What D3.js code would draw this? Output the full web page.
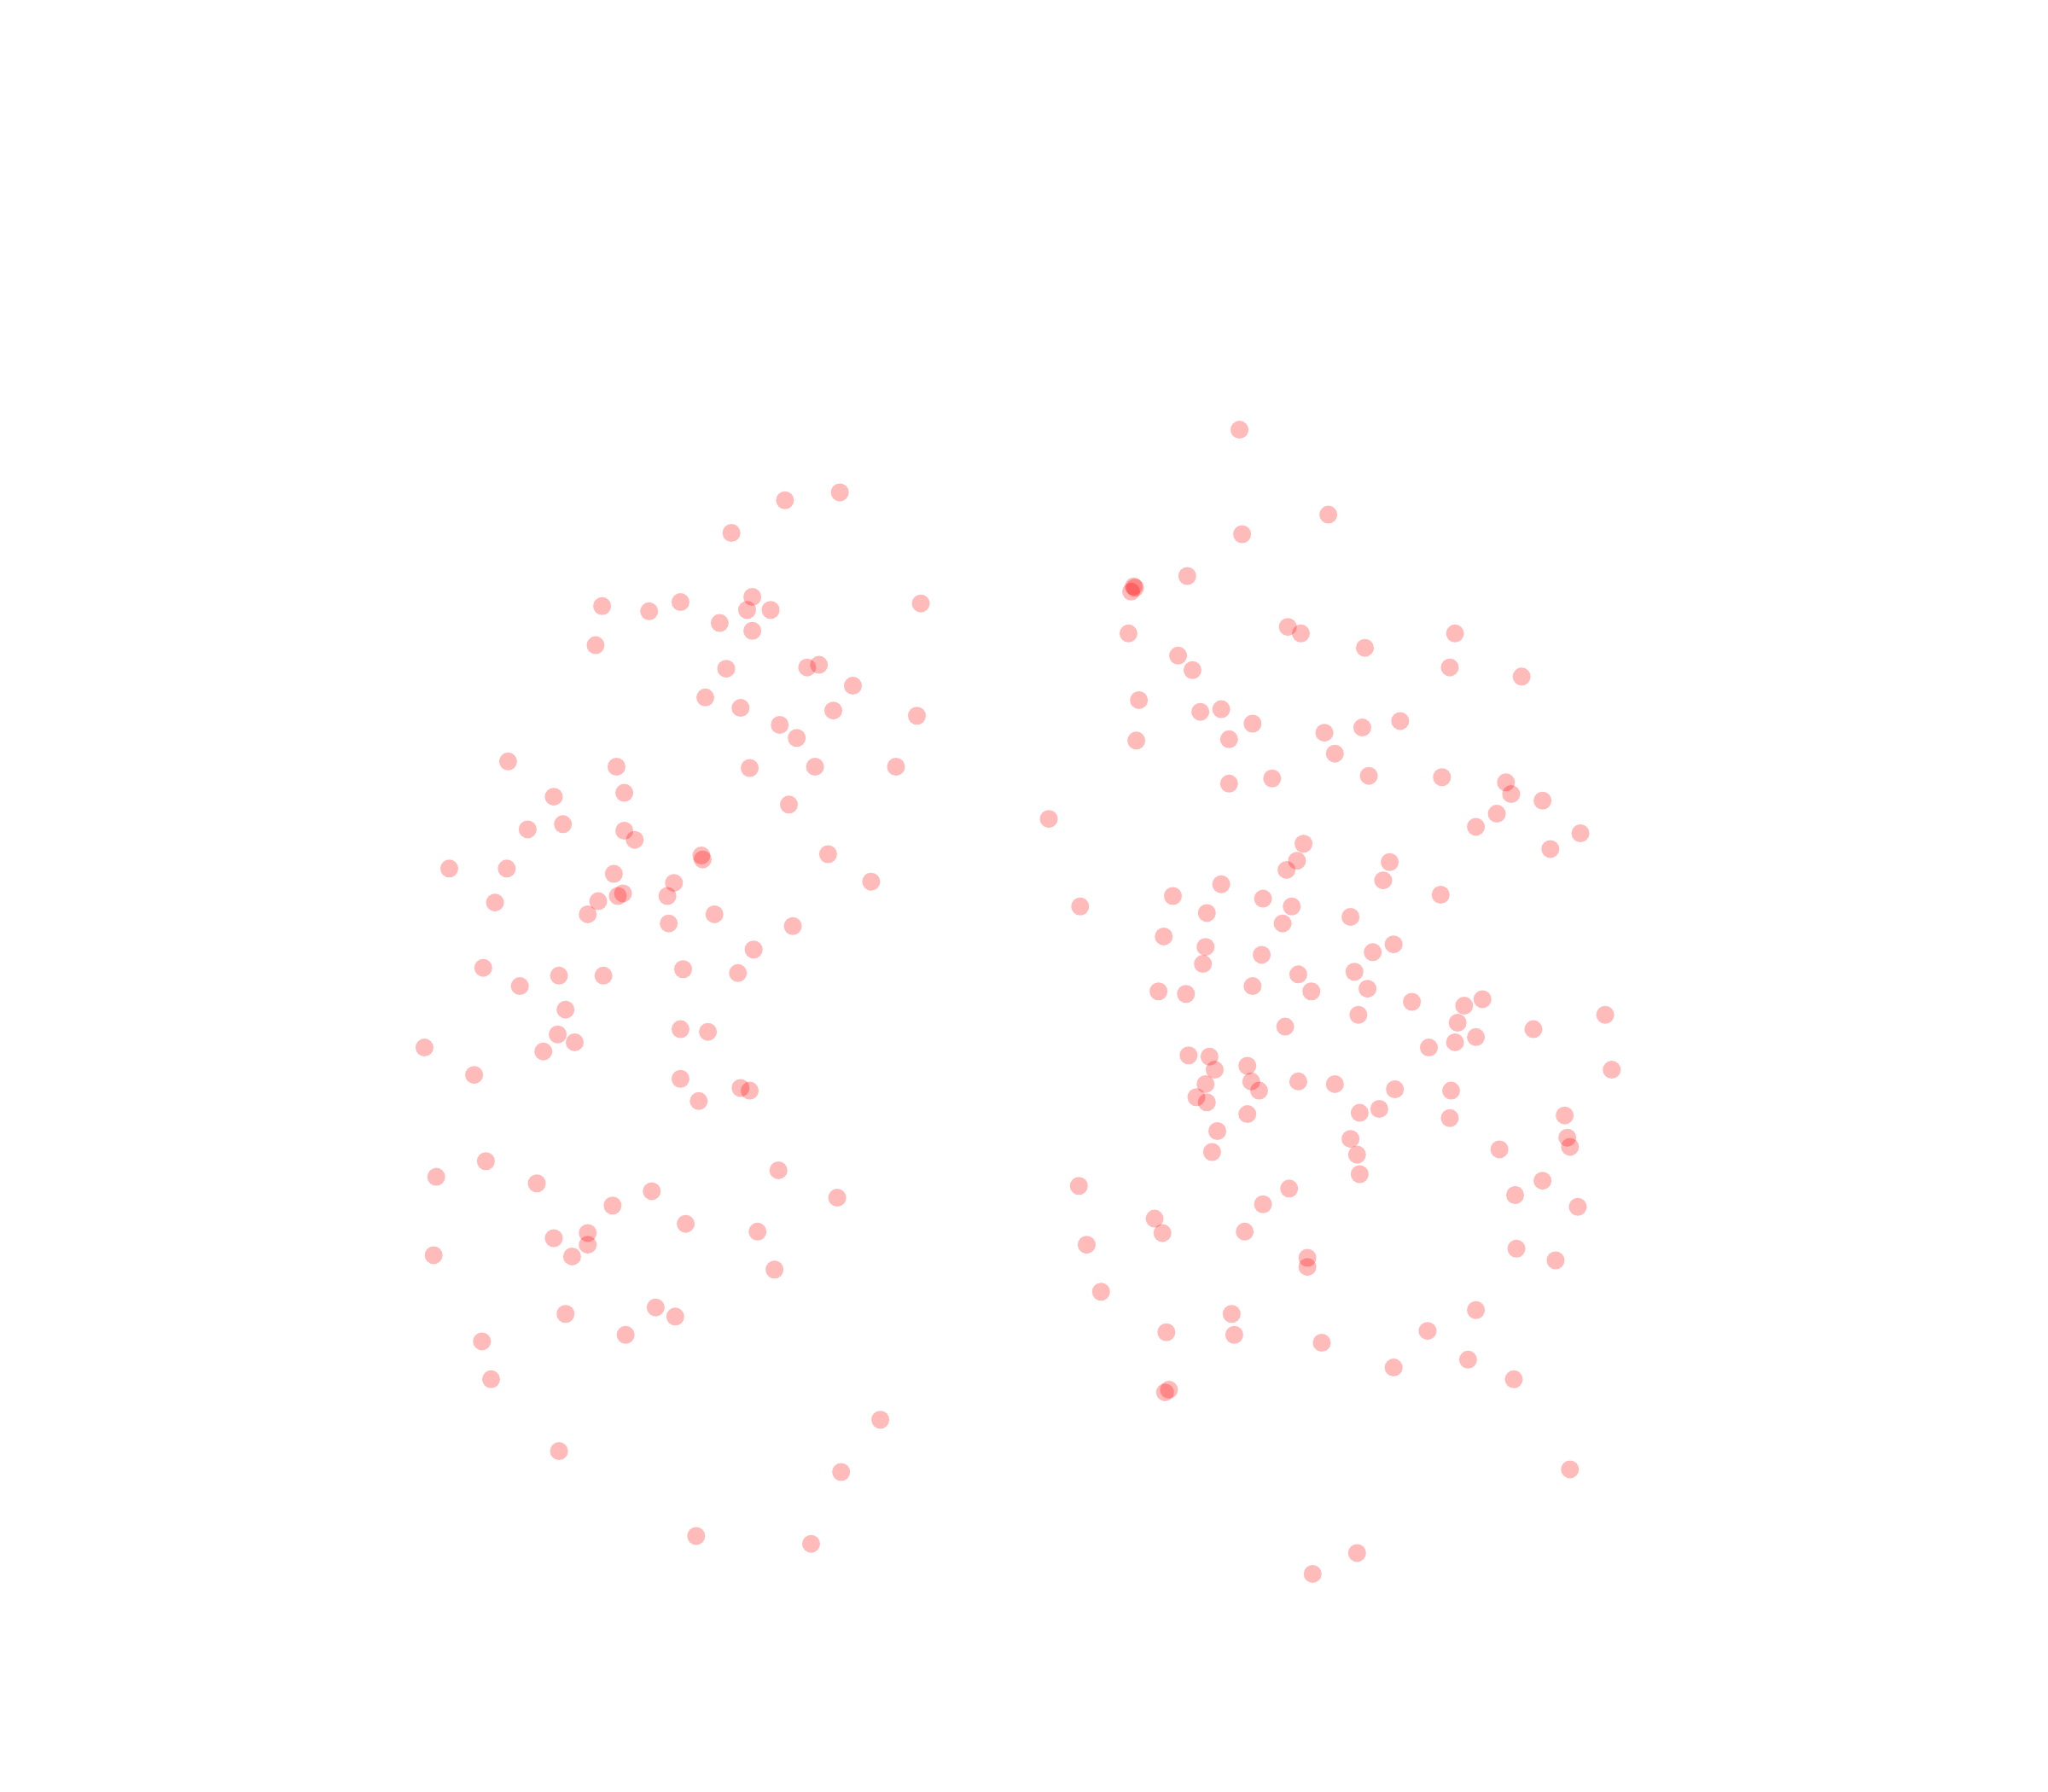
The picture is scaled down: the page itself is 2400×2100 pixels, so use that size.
<!DOCTYPE html>
<html>
<head>
<meta charset="utf-8">
<script src="https://cdn.jsdelivr.net/npm/d3@7"></script>
<style>html,body{margin:0;padding:0;background:#fff;}svg{display:block;}</style>
</head>
<body>
<script>
// Point values (data units; reference has no visible axes)
const xValues = [
643,601,560,576,572,590,521,497,461,551,576,456,705,556,618,627,653,540,567,638,
702,597,610,574,624,686,472,389,424,478,604,431,404,478,486,537,538,634,344,388,
470,516,667,477,473,511,458,379,450,547,512,607,577,370,523,428,462,565,398,433,
521,542,427,440,325,416,363,521,567,574,535,372,596,334,411,499,641,469,525,580,
450,424,450,332,438,593,502,433,517,479,369,376,674,428,644,533,621,
949,1017,951,909,869,866,868,864,986,996,1045,1114,902,913,1110,1165,872,919,935,959,
1014,1043,1072,870,941,1022,941,974,1048,1104,1153,1157,1181,1146,1130,1210,1187,803,998,993,
985,1064,1059,935,898,967,1103,827,989,924,1034,982,891,923,966,1067,1051,921,1037,994,
959,887,908,1004,1047,1081,1135,1121,1229,1040,1116,984,1174,1130,1114,1094,910,926,955,930,
1234,958,994,1022,923,964,1068,1111,916,924,1056,1041,955,1110,1198,932,1034,1200,1202,1148,
928,1039,1041,1181,826,987,1160,967,1208,884,890,953,832,1161,1001,1191,1001,843,1130,943,
893,945,1093,1012,1124,1067,1159,892,895,1202,1039,1005
];
const yValues = [
377,383,408,457,467,467,461,468,464,477,483,494,462,512,511,509,525,534,542,544,
548,555,565,588,587,587,587,583,610,607,616,631,635,636,643,655,658,654,665,665,
669,676,675,684,686,686,690,691,700,700,707,709,727,741,742,747,747,745,755,773,
788,790,792,798,802,805,823,826,833,835,843,889,896,901,906,912,917,923,937,943,
944,948,953,961,962,972,1001,1006,1008,1022,1027,1056,1087,1111,1127,1176,1182,
329,394,409,441,450,453,449,485,480,485,496,485,502,513,511,518,536,545,543,554,
561,557,552,567,566,577,600,596,594,595,599,608,613,623,633,638,650,627,646,659,
666,660,674,677,686,688,685,694,694,699,702,707,717,725,731,723,729,738,744,746,
755,759,761,759,757,767,765,770,777,777,783,786,788,794,798,802,808,809,816,819,
819,828,828,830,830,835,834,835,840,844,849,852,853,856,854,866,872,871,878,880,
882,884,899,904,908,910,915,922,924,933,944,943,953,956,963,965,970,989,1003,1006,
1020,1022,1019,1028,1041,1047,1056,1066,1064,1125,1189,1205
];

const W = 2400, H = 2100;
const x = d3.scaleLinear().domain([0, 1568]).range([0, W]);
const y = d3.scaleLinear().domain([0, 1372]).range([0, H]);

const data = xValues.map((v, i) => ({x: v, y: yValues[i]}));

const svg = d3.select("body").append("svg").attr("width", W).attr("height", H);
svg.append("g").selectAll("circle").data(data).join("circle")
  .attr("cx", d => x(d.x))
  .attr("cy", d => y(d.y))
  .attr("r", 10.5)
  .attr("fill", "red")
  .attr("fill-opacity", 0.27);
</script>
</body>
</html>
